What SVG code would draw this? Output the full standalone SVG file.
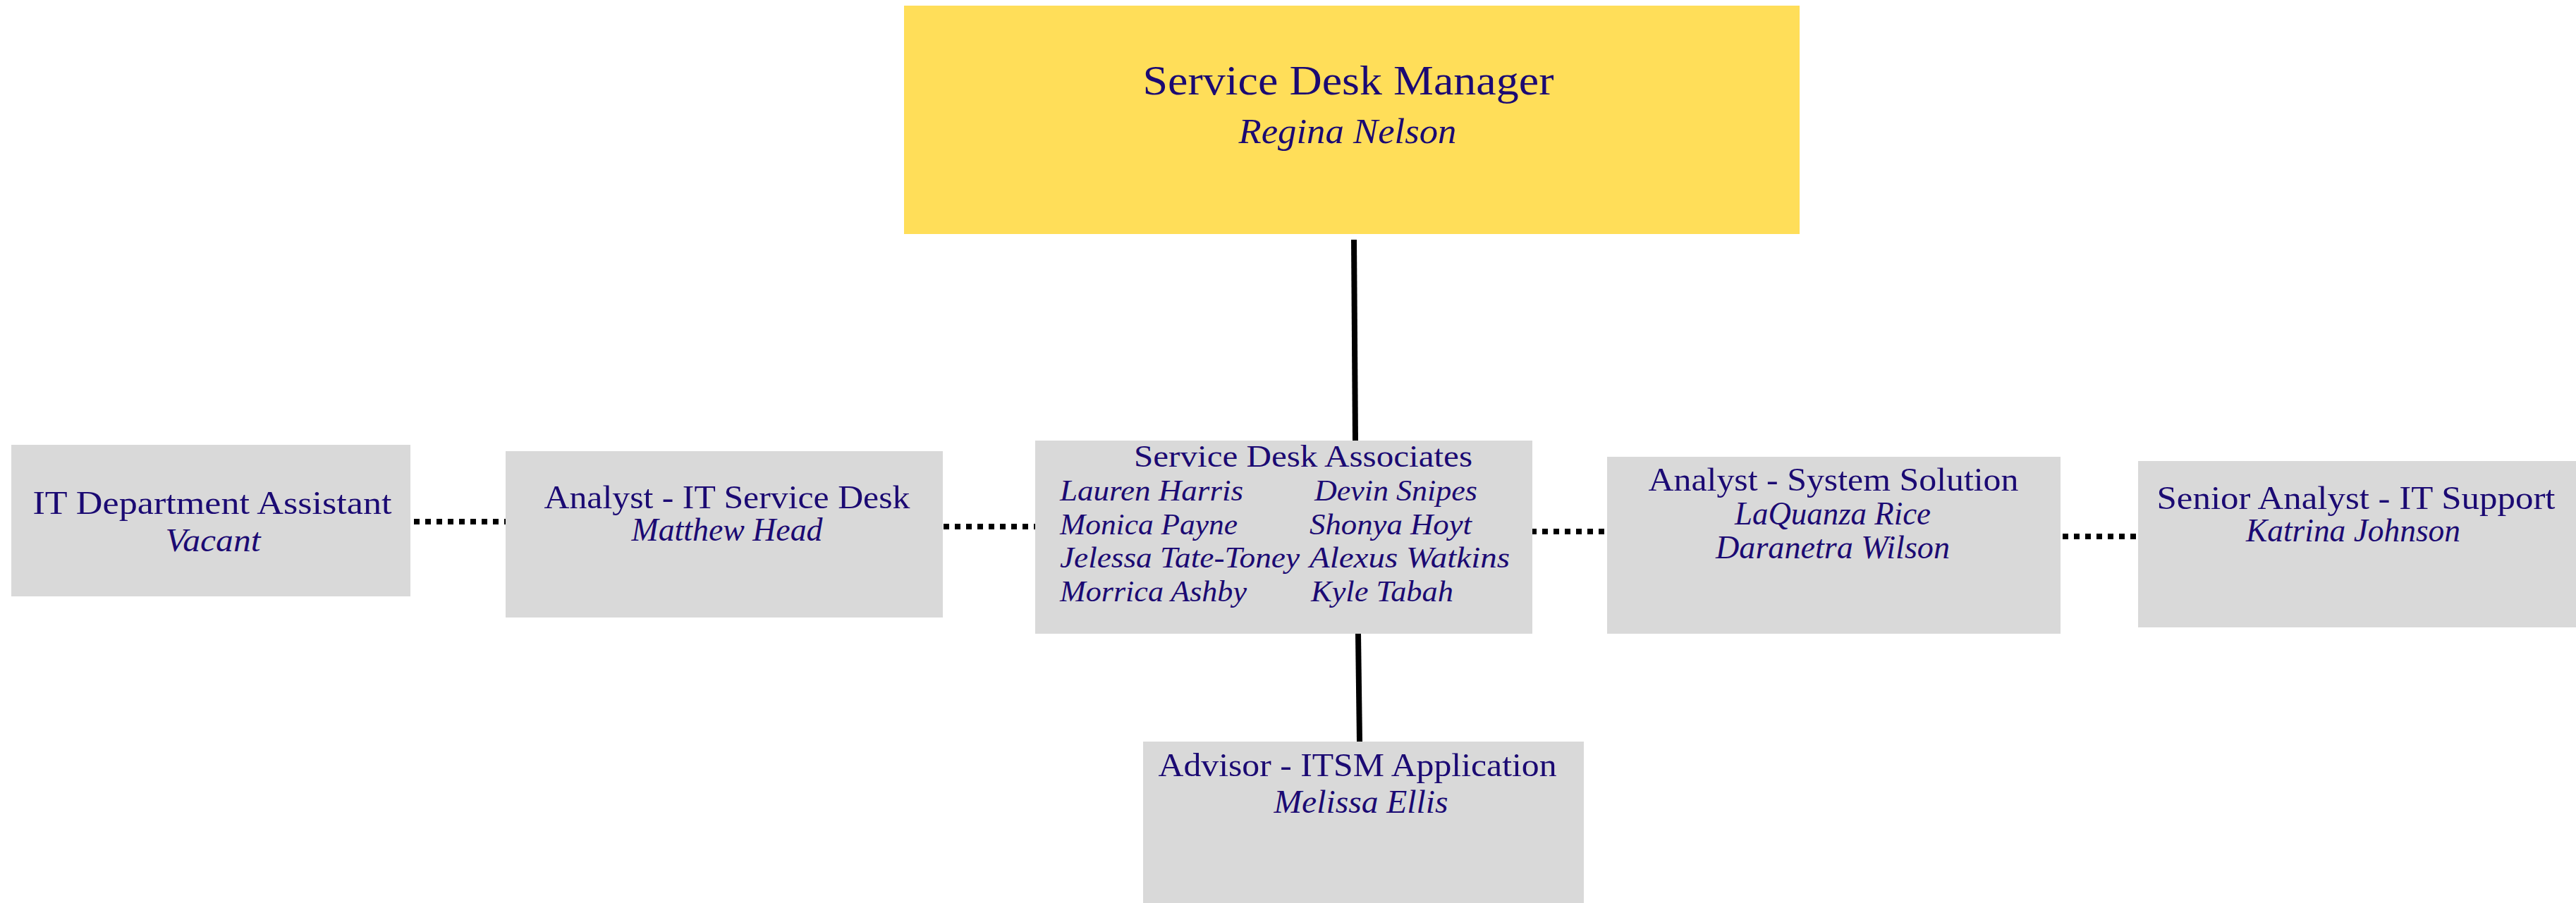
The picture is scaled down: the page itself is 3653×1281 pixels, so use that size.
<svg xmlns="http://www.w3.org/2000/svg" width="3653" height="1281" viewBox="0 0 3653 1281">
<style>
.box{fill:#d9d9d9}
.mgr{fill:#ffde59}
.t{font-family:"Liberation Serif","Times New Roman",serif;fill:#1b0a73;text-anchor:middle}
.n{font-family:"Liberation Serif","Times New Roman",serif;fill:#1b0a73;font-style:italic}
.i{font-style:italic}
.solid{stroke:#000;stroke-width:8;fill:none}
.dot{stroke:#000;stroke-width:8;stroke-dasharray:8 8;fill:none}
</style>
<rect width="3653" height="1281" fill="#ffffff"/>
<g id="connectors">
<line class="solid" x1="1920" y1="340" x2="1922" y2="625"/>
<line class="solid" x1="1926" y1="899" x2="1928" y2="1052"/>
<line class="dot" x1="587" y1="740" x2="717" y2="740"/>
<line class="dot" x1="1338" y1="747" x2="1468" y2="747"/>
<line class="dot" x1="2171" y1="754" x2="2279" y2="754"/>
<line class="dot" x1="2925" y1="761" x2="3032" y2="761"/>
</g>
<g id="manager">
<rect class="mgr" x="1282" y="8" width="1270" height="324"/>
<text class="t" x="1912" y="134" font-size="60" textLength="583" lengthAdjust="spacingAndGlyphs">Service Desk Manager</text>
<text class="t i" x="1911" y="203" font-size="50" textLength="309" lengthAdjust="spacingAndGlyphs">Regina Nelson</text>
</g>
<g id="it-dept-assistant">
<rect class="box" x="16" y="631" width="566" height="215"/>
<text class="t" x="301" y="729" font-size="47" textLength="509" lengthAdjust="spacingAndGlyphs">IT Department Assistant</text>
<text class="t i" x="302" y="782" font-size="46" textLength="135" lengthAdjust="spacingAndGlyphs">Vacant</text>
</g>
<g id="analyst-it-service-desk">
<rect class="box" x="717" y="640" width="620" height="236"/>
<text class="t" x="1031" y="721" font-size="47" textLength="519" lengthAdjust="spacingAndGlyphs">Analyst - IT Service Desk</text>
<text class="t i" x="1031" y="767" font-size="46" textLength="271" lengthAdjust="spacingAndGlyphs">Matthew Head</text>
</g>
<g id="service-desk-associates">
<rect class="box" x="1468" y="625" width="705" height="274"/>
<text class="t" x="1848" y="662" font-size="45" textLength="480" lengthAdjust="spacingAndGlyphs">Service Desk Associates</text>
<text class="n" x="1503" y="710" font-size="42" textLength="260" lengthAdjust="spacingAndGlyphs">Lauren Harris</text>
<text class="n" x="1503" y="758" font-size="42" textLength="252" lengthAdjust="spacingAndGlyphs">Monica Payne</text>
<text class="n" x="1503" y="805" font-size="42" textLength="340" lengthAdjust="spacingAndGlyphs">Jelessa Tate-Toney</text>
<text class="n" x="1503" y="853" font-size="42" textLength="265" lengthAdjust="spacingAndGlyphs">Morrica Ashby</text>
<text class="n" x="1864" y="710" font-size="42" textLength="231" lengthAdjust="spacingAndGlyphs">Devin Snipes</text>
<text class="n" x="1857" y="758" font-size="42" textLength="230" lengthAdjust="spacingAndGlyphs">Shonya Hoyt</text>
<text class="n" x="1857" y="805" font-size="42" textLength="284" lengthAdjust="spacingAndGlyphs">Alexus Watkins</text>
<text class="n" x="1859" y="853" font-size="42" textLength="202" lengthAdjust="spacingAndGlyphs">Kyle Tabah</text>
</g>
<g id="analyst-system-solution">
<rect class="box" x="2279" y="648" width="643" height="251"/>
<text class="t" x="2600" y="696" font-size="47" textLength="525" lengthAdjust="spacingAndGlyphs">Analyst - System Solution</text>
<text class="t i" x="2599" y="744" font-size="46" textLength="278" lengthAdjust="spacingAndGlyphs">LaQuanza Rice</text>
<text class="t i" x="2599" y="792" font-size="46" textLength="332" lengthAdjust="spacingAndGlyphs">Daranetra Wilson</text>
</g>
<g id="senior-analyst-it-support">
<rect class="box" x="3032" y="654" width="621" height="236"/>
<text class="t" x="3341" y="722" font-size="47" textLength="565" lengthAdjust="spacingAndGlyphs">Senior Analyst - IT Support</text>
<text class="t i" x="3337" y="768" font-size="46" textLength="304" lengthAdjust="spacingAndGlyphs">Katrina Johnson</text>
</g>
<g id="advisor-itsm-application">
<rect class="box" x="1621" y="1052" width="625" height="229"/>
<text class="t" x="1925" y="1101" font-size="47" textLength="565" lengthAdjust="spacingAndGlyphs">Advisor - ITSM Application</text>
<text class="t i" x="1930" y="1153" font-size="46" textLength="247" lengthAdjust="spacingAndGlyphs">Melissa Ellis</text>
</g>
</svg>
